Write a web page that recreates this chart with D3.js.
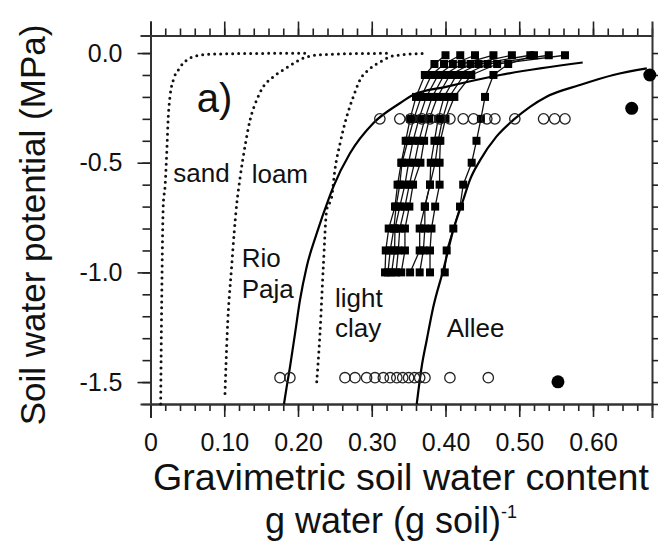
<!DOCTYPE html>
<html>
<head>
<meta charset="utf-8">
<script src="https://cdn.jsdelivr.net/npm/d3@7"></script>
<style>
body { margin: 0; background: #fff; }
text { font-family: "Liberation Sans", Arial, sans-serif; fill: #111; }
</style>
</head>
<body>
<svg id="chart" width="658" height="553"></svg>
<script>
// reference soil curves [water content, potential MPa]
var sand = [[0.0138,-1.60],[0.0152,-1.126],[0.0174,-0.684],[0.0197,-0.609],[0.022,-0.456],[0.0241,-0.29],[0.0264,-0.199],[0.0309,-0.123],[0.0377,-0.077],[0.0491,-0.032],[0.058,-0.017],[0.076,-0.006],[0.135,-0.002],[0.212,-0.001]]
var loam = [[0.101,-1.552],[0.104,-1.278],[0.110,-0.974],[0.117,-0.685],[0.121,-0.579],[0.128,-0.427],[0.135,-0.305],[0.144,-0.214],[0.153,-0.153],[0.164,-0.115],[0.180,-0.077],[0.198,-0.039],[0.212,-0.017],[0.239,-0.006],[0.320,-0.001]]
var lightClay = [[0.2254,-1.499],[0.2298,-1.278],[0.2343,-0.974],[0.2389,-0.716],[0.2457,-0.655],[0.250,-0.533],[0.257,-0.412],[0.266,-0.290],[0.275,-0.199],[0.284,-0.123],[0.298,-0.070],[0.312,-0.039],[0.329,-0.013],[0.375,-0.001]]

// fitted curves for the two field soils
var rioPaja = [[0.181,-1.60],[0.1847,-1.521],[0.1892,-1.430],[0.196,-1.278],[0.2027,-1.126],[0.2118,-0.974],[0.2254,-0.822],[0.241,-0.670],[0.248,-0.609],[0.2705,-0.457],[0.302,-0.320],[0.338,-0.229],[0.356,-0.191],[0.402,-0.153],[0.474,-0.100],[0.586,-0.043]]
var allee = [[0.361,-1.60],[0.3677,-1.430],[0.3745,-1.309],[0.3835,-1.157],[0.397,-0.989],[0.4106,-0.807],[0.424,-0.670],[0.433,-0.579],[0.447,-0.488],[0.469,-0.381],[0.492,-0.305],[0.5146,-0.245],[0.537,-0.199],[0.582,-0.146],[0.6275,-0.100],[0.673,-0.070]]

// drying series (filled squares), water content at each potential step
var psiSteps = [-1.0,-0.9,-0.8,-0.7,-0.6,-0.5,-0.4,-0.3,-0.2,-0.1,-0.05,-0.01]
var dryingSeries = [
    [0.318,0.319,0.323,0.3315,0.335,0.340,0.346,0.352,0.360,0.372,0.385,0.400],
    [0.322,0.325,0.330,0.333,0.338,0.341,0.349,0.357,0.367,0.381,0.398,0.420],
    [0.327,0.331,0.3315,0.338,0.345,0.350,0.356,0.364,0.374,0.390,0.410,0.440],
    [0.333,0.336,0.338,0.345,0.351,0.358,0.364,0.372,0.382,0.398,0.422,0.465],
    [0.340,0.345,0.345,0.351,0.356,0.366,0.371,0.378,0.389,0.406,0.434,0.490],
    [0.352,0.365,0.365,0.372,0.379,0.380,0.385,0.390,0.398,0.415,0.445,0.515],
    [0.365,0.370,0.372,0.372,0.379,0.386,0.390,0.396,0.405,0.425,0.457,0.540],
    [0.379,0.379,0.381,0.386,0.392,0.392,0.393,0.400,0.412,0.435,0.470,0.562],
    [0.399,0.4016,0.4106,0.4197,0.424,0.4355,0.442,0.448,0.4536,0.465,0.485,0.520]
]

// open circles at two potentials
var openTopPsi = -0.3
var openTopX = [0.311,0.338,0.353,0.368,0.379,0.3925,0.406,0.424,0.438,0.456,0.467,0.494,0.533,0.548,0.562]
var openBottomPsi = -1.48
var openBottomX = [0.1756,0.189,0.2637,0.2773,0.293,0.3044,0.3157,0.325,0.334,0.342,0.350,0.358,0.365,0.3722,0.406,0.458]

// filled circles
var filledCircles = [[0.5525,-1.499],[0.6525,-0.252],[0.677,-0.100]]

var curveLabels = [
    {text: "sand", x: 0.0309, y: -0.587},
    {text: "loam", x: 0.1372, y: -0.594},
    {text: "Rio", x: 0.1237, y: -0.974},
    {text: "Paja", x: 0.1237, y: -1.118},
    {text: "light", x: 0.2502, y: -1.157},
    {text: "clay", x: 0.2502, y: -1.293},
    {text: "Allee", x: 0.4016, y: -1.293}
]

var xMajor = [0, 0.1, 0.2, 0.3, 0.4, 0.5, 0.6]
var yMajor = [0, -0.5, -1.0, -1.5]

var dimensions = {
    width: 658,
    height: 553,
    margin: { top: 35.5, bottom: 149, left: 150.5, right: 6 }
}

var svg = d3.select("#chart")

var xScale = d3.scaleLinear()
               .domain([0, 0.68])
               .range([dimensions.margin.left, dimensions.width - dimensions.margin.right])

var yScale = d3.scaleLinear()
               .domain([-1.6, 0.08])
               .range([dimensions.height - dimensions.margin.bottom, dimensions.margin.top])

var xMinor = d3.range(0, 35).map(i => i * 0.02)
var yMinor = d3.range(0, 17).map(i => -i * 0.1)

var bottomY = yScale(-1.6), topY = yScale(0.08)
var leftX = xScale(0), rightX = xScale(0.68)

function styleAxis(g) {
    g.selectAll(".domain").attr("stroke", "#333").attr("stroke-width", 2)
    g.selectAll(".tick line").attr("stroke", "#222").attr("stroke-width", 1.6)
    g.selectAll(".tick text").style("font-size", "25px").attr("fill", "#111")
         .style("font-family", "'Liberation Sans', Arial, sans-serif")
}

// bottom axis
svg.append("g").attr("transform", `translate(0,${bottomY})`)
   .call(d3.axisBottom(xScale).tickValues(xMinor).tickSize(7).tickSizeOuter(0).tickFormat(""))
   .call(styleAxis)
svg.append("g").attr("transform", `translate(0,${bottomY})`)
   .call(d3.axisBottom(xScale).tickValues(xMajor).tickSize(13).tickSizeOuter(14).tickPadding(16)
           .tickFormat(d => d === 0 ? "0" : d.toFixed(2)))
   .call(styleAxis)

// top axis
svg.append("g").attr("transform", `translate(0,${topY})`)
   .call(d3.axisTop(xScale).tickValues(xMinor).tickSize(7).tickSizeOuter(0).tickFormat(""))
   .call(styleAxis)
svg.append("g").attr("transform", `translate(0,${topY})`)
   .call(d3.axisTop(xScale).tickValues(xMajor).tickSize(14).tickSizeOuter(14).tickFormat(""))
   .call(styleAxis)

// left axis
svg.append("g").attr("transform", `translate(${leftX},0)`)
   .call(d3.axisLeft(yScale).tickValues(yMinor).tickSize(8).tickSizeOuter(0).tickFormat(""))
   .call(styleAxis)
svg.append("g").attr("transform", `translate(${leftX},0)`)
   .call(d3.axisLeft(yScale).tickValues(yMajor).tickSize(13).tickSizeOuter(10).tickPadding(15)
           .tickFormat(d => d.toFixed(1)))
   .call(styleAxis)

// right axis
svg.append("g").attr("transform", `translate(${rightX},0)`)
   .call(d3.axisRight(yScale).tickValues(yMinor).tickSize(7).tickSizeOuter(0).tickFormat(""))
   .call(styleAxis)

var line = d3.line()
             .x(d => xScale(d[0]))
             .y(d => yScale(d[1]))
             .curve(d3.curveMonotoneX)

// dotted texture curves
;[sand, loam, lightClay].forEach(curve => {
    svg.append("path")
       .datum(curve)
       .attr("d", line)
       .attr("fill", "none")
       .attr("stroke", "#111")
       .attr("stroke-width", 3)
       .attr("stroke-linecap", "round")
       .attr("stroke-dasharray", "0,6")
})

// drying series lines and squares
var seriesLine = d3.line()
                   .x(d => xScale(d.x))
                   .y(d => yScale(d.psi))

var seriesData = dryingSeries.map(xs => xs.map((v, i) => ({ x: v, psi: psiSteps[i] })))

svg.append("g")
   .selectAll("path")
   .data(seriesData)
   .enter()
   .append("path")
   .attr("d", seriesLine)
   .attr("fill", "none")
   .attr("stroke", "#111")
   .attr("stroke-width", 1.3)

svg.append("g")
   .selectAll("rect")
   .data(seriesData.flat())
   .enter()
   .append("rect")
   .attr("x", d => xScale(d.x) - 4)
   .attr("y", d => yScale(d.psi) - 4)
   .attr("width", 8)
   .attr("height", 8)
   .attr("fill", "#000")

// fitted curves
;[rioPaja, allee].forEach(curve => {
    svg.append("path")
       .datum(curve)
       .attr("d", line)
       .attr("fill", "none")
       .attr("stroke", "#000")
       .attr("stroke-width", 2.2)
})

// open circles
var openPoints = openTopX.map(v => [v, openTopPsi]).concat(openBottomX.map(v => [v, openBottomPsi]))
svg.append("g")
   .selectAll("circle")
   .data(openPoints)
   .enter()
   .append("circle")
   .attr("cx", d => xScale(d[0]))
   .attr("cy", d => yScale(d[1]))
   .attr("r", 5.2)
   .attr("fill", "none")
   .attr("stroke", "#222")
   .attr("stroke-width", 1.3)

// filled circles
svg.append("g")
   .selectAll("circle")
   .data(filledCircles)
   .enter()
   .append("circle")
   .attr("cx", d => xScale(d[0]))
   .attr("cy", d => yScale(d[1]))
   .attr("r", 6.5)
   .attr("fill", "#000")

// curve labels
svg.append("g")
   .selectAll("text")
   .data(curveLabels)
   .enter()
   .append("text")
   .attr("x", d => xScale(d.x))
   .attr("y", d => yScale(d.y))
   .style("font-size", "26px")
   .text(d => d.text)

svg.append("text")
   .attr("x", xScale(0.0626))
   .attr("y", yScale(-0.267))
   .style("font-size", "40px")
   .text("a)")

// axis titles
svg.append("text")
   .attr("transform", "rotate(-90)")
   .attr("x", -225)
   .attr("y", 45)
   .attr("text-anchor", "middle")
   .style("font-size", "35px")
   .text("Soil water potential (MPa)")

svg.append("text")
   .attr("x", 401)
   .attr("y", 490)
   .attr("text-anchor", "middle")
   .attr("textLength", 496)
   .attr("lengthAdjust", "spacingAndGlyphs")
   .style("font-size", "36px")
   .text("Gravimetric soil water content")

var xTitle2 = svg.append("text")
                 .attr("x", 391)
                 .attr("y", 533)
                 .attr("text-anchor", "middle")
                 .style("font-size", "36px")
xTitle2.append("tspan").text("g water (g soil)")
xTitle2.append("tspan").attr("dy", -15).style("font-size", "18px").text("-1")
</script>
</body>
</html>
